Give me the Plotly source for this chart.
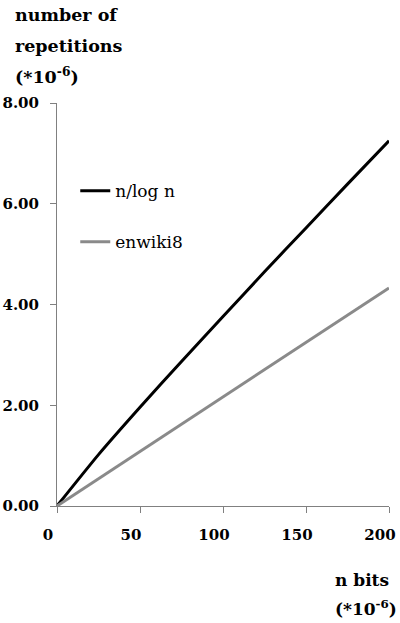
import plotly.graph_objects as go

# Data, units of 10^6
n_bits = [0, 25, 50, 75, 100, 125, 150, 175, 200]
n_over_log_n = [0.0, 1.02, 1.96, 2.87, 3.76, 4.65, 5.52, 6.39, 7.25]
enwiki8 = [0.0, 0.54, 1.08, 1.62, 2.16, 2.71, 3.25, 3.79, 4.33]

x_ticks = [0, 50, 100, 150, 200]
y_ticks = [0, 2, 4, 6, 8]

y_title_lines = ["number of", "repetitions", "(*10<sup>-6</sup>)"]
x_title_lines = ["n bits", "(*10<sup>-6</sup>)"]

SERIF = "DejaVu Serif"

fig = go.Figure()
fig.add_trace(go.Scatter(x=n_bits, y=n_over_log_n, mode="lines", name="n/log n",
                         legendgroup="a",
                         line=dict(color="#000000", width=3, shape="spline", smoothing=0.6)))
fig.add_trace(go.Scatter(x=n_bits, y=enwiki8, mode="lines", name="enwiki8",
                         legendgroup="b",
                         line=dict(color="#8a8a8a", width=3)))

fig.update_layout(
    width=400, height=623,
    margin=dict(l=57, r=11, t=103, b=117, autoexpand=False),
    paper_bgcolor="white", plot_bgcolor="white",
    font=dict(family=SERIF, color="black"),
    showlegend=True,
    legend=dict(x=0.055, y=0.826, xanchor="left", yanchor="top",
                bgcolor="rgba(0,0,0,0)", font=dict(size=17, family=SERIF),
                traceorder="grouped", tracegroupgap=26, itemwidth=30),
    xaxis=dict(range=[0, 200], tickvals=x_ticks, ticktext=[str(v) for v in x_ticks],
               showgrid=False, zeroline=False, showline=True, linecolor="#808080",
               linewidth=1, ticks="outside", ticklen=6, tickcolor="#808080",
               tickfont=dict(size=15, family=SERIF, weight="bold"), ticklabelstandoff=9,
               ticklabelshift=-9, ticklabeloverflow="allow", automargin=False),
    yaxis=dict(range=[0, 8], tickvals=y_ticks, ticktext=[f"{v:.2f}" for v in y_ticks],
               showgrid=False, zeroline=False, showline=True, linecolor="#808080",
               linewidth=1, ticks="outside", ticklen=6, tickcolor="#808080",
               tickfont=dict(size=15, family=SERIF, weight="bold"), ticklabelstandoff=8,
               automargin=False),
)

for txt, yp in zip(y_title_lines, [1.218, 1.141, 1.067]):
    fig.add_annotation(text=f"<b>{txt}</b>", xref="paper", yref="paper",
                       x=-0.1325, y=yp, xanchor="left", yanchor="middle",
                       showarrow=False, align="left",
                       font=dict(size=17.5, family=SERIF, color="black"))
for txt, yp in zip(x_title_lines, [-0.184, -0.253]):
    fig.add_annotation(text=f"<b>{txt}</b>", xref="paper", yref="paper",
                       x=0.831, y=yp, xanchor="left", yanchor="middle",
                       showarrow=False, align="left",
                       font=dict(size=17, family=SERIF, color="black"))

fig.write_html("out.html")
